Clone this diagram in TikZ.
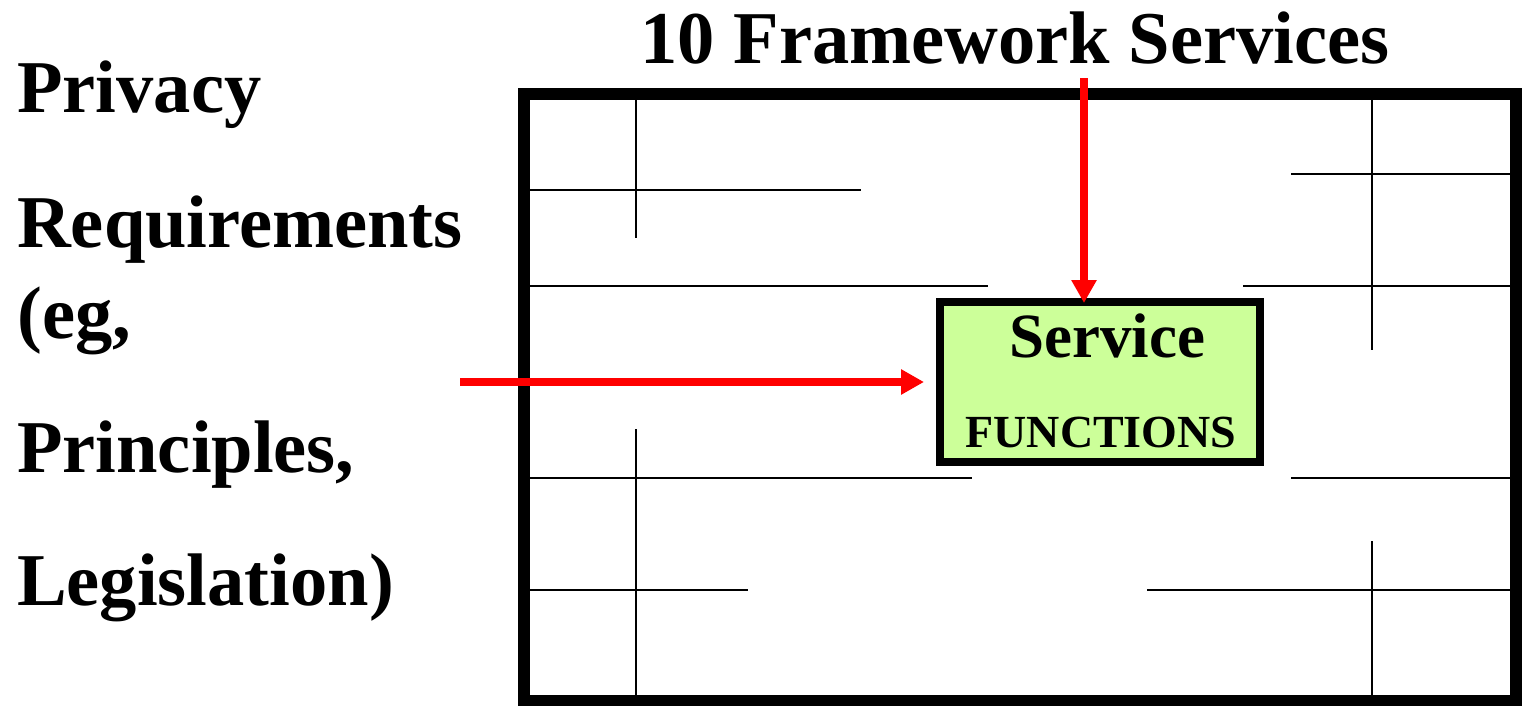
\documentclass[tikz,border=0pt]{standalone}
\usepackage{fontspec}
\setmainfont{Liberation Serif}
\usetikzlibrary{arrows.meta}
\definecolor{svcgreen}{HTML}{CCFF99}
\begin{document}
\begin{tikzpicture}[x=1pt,y=-1pt,
  grid/.style={line width=2pt,line cap=butt},
  frame/.style={line width=12pt},
  svcbox/.style={draw,line width=8pt,fill=svcgreen,rectangle,
    minimum width=320pt,minimum height=160pt,inner sep=0pt},
  feed/.style={draw=red,line width=8pt,-{Triangle[length=23pt,width=24pt]}},
  bigtext/.style={font=\fontsize{74.5}{74.5}\selectfont\bfseries,inner sep=0pt},
  svctext/.style={font=\fontsize{63}{63}\selectfont\bfseries,inner sep=0pt},
  fntext/.style={font=\fontsize{46}{46}\selectfont\bfseries,inner sep=0pt}]
\useasboundingbox (0,0) rectangle (1523,705);

% partition lines inside the framework
\draw[grid] (636,100) -- (636,238);
\draw[grid] (530,190) -- (861,190);
\draw[grid] (530,286) -- (988,286);
\draw[grid] (1372,100) -- (1372,350);
\draw[grid] (1291,174) -- (1510,174);
\draw[grid] (1243,286) -- (1510,286);
\draw[grid] (636,429) -- (636,696);
\draw[grid] (530,478) -- (972,478);
\draw[grid] (530,590) -- (748,590);
\draw[grid] (1372,541) -- (1372,696);
\draw[grid] (1291,478) -- (1510,478);
\draw[grid] (1147,590) -- (1510,590);

% framework border
\draw[frame] (524,94) rectangle (1516,701);

% service box
\node[svcbox] (svc) at (1100,382) {};
\node[svctext,anchor=base] (svcname) at (1107,357) {Service};
\node[fntext,anchor=base] (svcfn) at (1101,447) {FUNCTIONS};

% titles and requirement list
\node[bigtext,anchor=base] (title) at (1015,63) {10 Framework Services};
\node[bigtext,anchor=base west] (l1) at (17,112) {Privacy};
\node[bigtext,anchor=base west] (l2) at (17,247) {Requirements};
\node[bigtext,anchor=base west] (l3) at (17,338) {(eg,};
\node[bigtext,anchor=base west] (l4) at (17,472) {Principles,};
\node[bigtext,anchor=base west] (l5) at (17,605) {Legislation)};

% inputs into the service
\coordinate (vsrc) at (1084,78);
\coordinate (hsrc) at (460,382);
\draw[feed] (vsrc) -- ([yshift=-5pt]vsrc |- svc.north);
\draw[feed] (hsrc) -- ([xshift=-12pt]svc.west |- hsrc);
\end{tikzpicture}
\end{document}
